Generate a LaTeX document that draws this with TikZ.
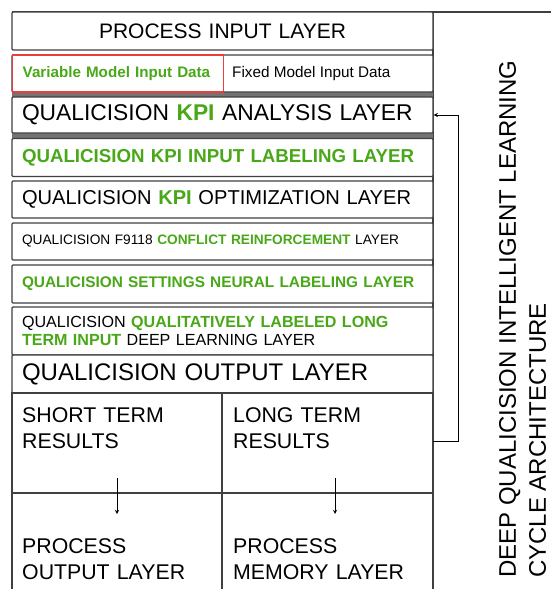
\documentclass[tikz,border=0pt]{standalone}
\usepackage{fontspec}
\setmainfont{Liberation Sans}
\usepackage{tikz}
\usetikzlibrary{arrows,shapes,positioning}

\definecolor{qgreen}{RGB}{72,168,24}
\definecolor{qred}{RGB}{236,60,60}
\newcommand{\gr}[1]{\textcolor{qgreen}{\bfseries #1}}

\begin{document}
\begin{tikzpicture}[x=1pt,y=-1pt,
    layer/.style={draw=black!75,line width=1.4pt,rounded corners=1pt,fill=white,
        minimum width=421pt,text width=401pt,inner xsep=10pt,inner ysep=0pt,align=left},
    half/.style={text width=190pt,inner xsep=10pt,inner ysep=0pt,align=left,
        font=\fontsize{21.3}{26}\selectfont,anchor=north west},
    band/.style={fill=black!55,draw=none}]
    \useasboundingbox (0,0) rectangle (551,589);
    % frame
    \draw[black!75,line width=1.4pt] (12,12) -- (551,12);
    \draw[black!75,line width=1.4pt] (433,12) -- (433,589);
    \fill[band] (12,92) rectangle (433,97);
    \fill[band] (12,133) rectangle (433,138);
    % layers
    \node[layer,minimum height=38pt,align=center,font=\fontsize{21}{24}\selectfont] (pin) at (222.5,31) {PROCESS INPUT LAYER};
    \node[layer,minimum height=37pt] (data) at (222.5,73.5) {};
    \node[draw=qred,line width=1.4pt,minimum width=211pt,minimum height=37pt,anchor=west,
        text width=191pt,inner xsep=10pt,align=left,
        font=\fontsize{15.2}{17}\selectfont] (var) at (12,73.5) {\gr{Variable Model Input Data}};
    \node[anchor=west,font=\fontsize{15.3}{17}\selectfont,inner sep=0pt] (fix) at (232,73.5) {Fixed Model Input Data};
    \node[layer,minimum height=36pt,font=\fontsize{22.8}{25}\selectfont] (kpiana) at (222.5,115) {QUALICISION \gr{KPI} ANALYSIS LAYER};
    \node[layer,minimum height=38pt,font=\fontsize{18.7}{21}\selectfont] (kpiin) at (222.5,157.5) {\gr{QUALICISION KPI INPUT LABELING LAYER}};
    \node[layer,minimum height=37pt,font=\fontsize{20.1}{23}\selectfont] (kpiopt) at (222.5,199.5) {QUALICISION \gr{KPI} OPTIMIZATION LAYER};
    \node[layer,minimum height=37pt,font=\fontsize{13.7}{16}\selectfont] (conf) at (222.5,241.5) {QUALICISION F9118 \gr{CONFLICT REINFORCEMENT} LAYER};
    \node[layer,minimum height=38pt,font=\fontsize{15.4}{18}\selectfont] (sett) at (222.5,284) {\gr{QUALICISION SETTINGS NEURAL LABELING LAYER}};
    \node[layer,minimum height=48pt,font=\fontsize{16.1}{18.5}\selectfont] (deep) at (222.5,331) {QUALICISION \gr{QUALITATIVELY LABELED LONG}\\ \gr{TERM INPUT} DEEP LEARNING LAYER};
    \node[layer,minimum height=38pt,font=\fontsize{24}{27}\selectfont] (out) at (222.5,374) {QUALICISION OUTPUT LAYER};
    % results and process boxes
    \draw[black!75,line width=1.4pt] (12,589) -- (12,393) -- (433,393);
    \draw[black!75,line width=1.4pt] (222,393) -- (222,589);
    \draw[black!75,line width=1.4pt] (12,493) -- (433,493);
    \node[half] (short) at (12,407) {SHORT TERM\\RESULTS};
    \node[half] (long) at (223,407) {LONG TERM\\RESULTS};
    \node[half] (pout) at (12,538) {PROCESS\\OUTPUT LAYER};
    \node[half] (pmem) at (223,538) {PROCESS\\MEMORY LAYER};
    \coordinate (s1) at (117,478);
    \coordinate (s2) at (117,514);
    \coordinate (l1) at (335,478);
    \coordinate (l2) at (335,514);
    \draw[-stealth,line width=0.9pt] (s1) -- (s2);
    \draw[-stealth,line width=0.9pt] (l1) -- (l2);
    % learning cycle
    \coordinate (fb) at (433,441);
    \draw[-stealth,line width=0.9pt] (fb) -- (458,441) |- (kpiana.east);
    \node[rotate=90,anchor=north west,align=left,inner sep=0pt,
        font=\fontsize{24}{30}\selectfont] (title) at (499,578)
        {DEEP QUALICISION INTELLIGENT LEARNING\\CYCLE ARCHITECTURE};
\end{tikzpicture}
\end{document}
